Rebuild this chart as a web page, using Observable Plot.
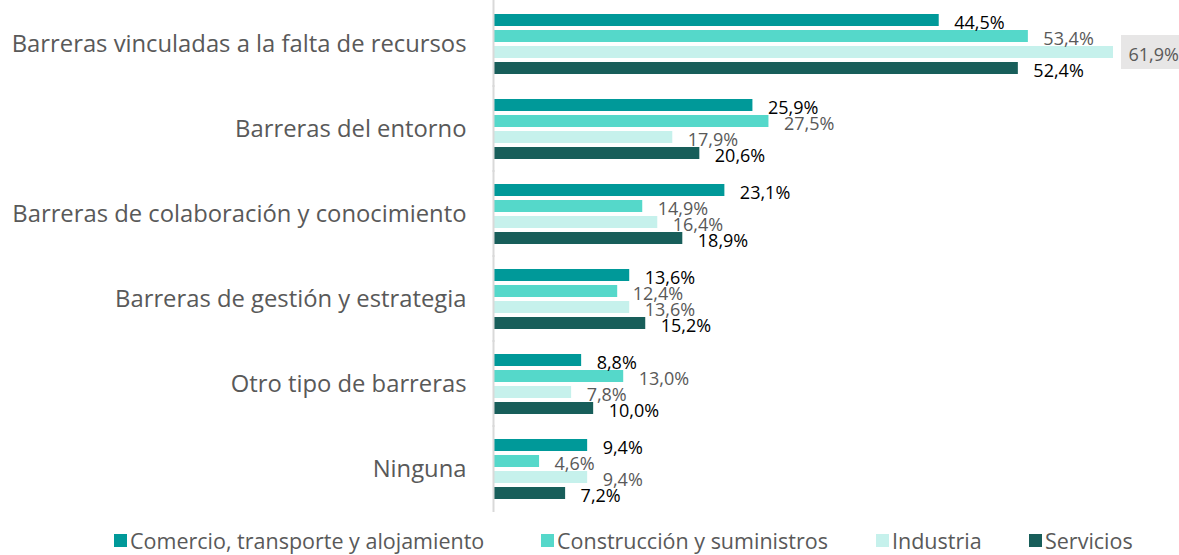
<!DOCTYPE html>
<html><head><meta charset="utf-8">
<script src="https://cdn.jsdelivr.net/npm/d3@7"></script>
<script src="https://cdn.jsdelivr.net/npm/@observablehq/plot@0.6"></script>
<style>
body{margin:0;background:#fff;font-family:"Open Sans",sans-serif;}
#legend{height:41px;font-size:21.5px;color:#595959;position:relative;}
.li{position:absolute;top:12px;height:28px;display:flex;align-items:center;white-space:nowrap;}
.sw{width:13px;height:13px;margin-right:3px;}
</style></head><body>
<div id="chart"></div>
<div id="legend"></div>
<script>
const categories = ["Barreras vinculadas a la falta de recursos","Barreras del entorno","Barreras de colaboración y conocimiento","Barreras de gestión y estrategia","Otro tipo de barreras","Ninguna"];
const series = ["Comercio, transporte y alojamiento","Construcción y suministros","Industria","Servicios"];
const comercio = [44.5,25.9,23.1,13.6,8.8,9.4];
const construccion = [53.4,27.5,14.9,12.4,13.0,4.6];
const industria = [61.9,17.9,16.4,13.6,7.8,9.4];
const servicios = [52.4,20.6,18.9,15.2,10.0,7.2];
const colors = ["#009999","#55d8ca","#c6f1ec","#185e5a"];
const labelColors = ["#000000","#595959","#595959","#000000"];

const valuesBySeries = [comercio, construccion, industria, servicios];
const data = [];
categories.forEach((c,i)=>series.forEach((s,j)=>data.push({category:c, series:s, value:valuesBySeries[j][i], lc:labelColors[j]})));
const maxVal = d3.max(data, d=>d.value);
const fmt = v => v.toFixed(1).replace(".", ",") + "%";

const chart = Plot.plot({
  width: 1179, height: 514,
  marginLeft: 493, marginRight: 66, marginTop: 8, marginBottom: 10,
  style: {fontFamily: "Open Sans, sans-serif", background: "#fff"},
  x: {domain:[0, maxVal], axis: null},
  y: {domain: series, padding: 0.25, axis: null},
  fy: {domain: categories, paddingInner: 0.17, paddingOuter: 0, label: null, tickSize: 0, tickPadding: 27},
  color: {domain: series, range: colors},
  marks: [
    Plot.barX(data.filter(d=>d.value===maxVal), {x1:"value", x2:"value", y:"series", fy:"category", fill:"#e7e6e6", insetLeft:8, insetRight:-66, insetTop:-11, insetBottom:-11}),
    Plot.barX(data, {x:"value", y:"series", fy:"category", fill:"series"}),
    Plot.ruleX([0], {stroke:"#d9d9d9", strokeWidth:2, insetTop:-8, insetBottom:-8}),
    Plot.text(data, {x:"value", y:"series", fy:"category", text:d=>fmt(d.value), fill:"lc", textAnchor:"start", dx:15, dy:3, fontSize:18, fontFamily:"Open Sans, sans-serif"})
  ]
});
const fyg = chart.querySelector('g[aria-label="fy-axis tick label"]');
if (fyg){fyg.setAttribute("font-size","23.8");fyg.setAttribute("fill","#595959");
  fyg.querySelectorAll("text").forEach(t=>{t.setAttribute("font-size","23.8");t.setAttribute("fill","#595959");});}
document.getElementById("chart").appendChild(chart);

const lx = [114,541,876,1029];
const leg = document.getElementById("legend");
series.forEach((s,j)=>{
  const d = document.createElement("div"); d.className="li"; d.style.left=lx[j]+"px";
  d.innerHTML = `<span class="sw" style="background:${colors[j]}"></span><span>${s}</span>`;
  leg.appendChild(d);
});
</script></body></html>
